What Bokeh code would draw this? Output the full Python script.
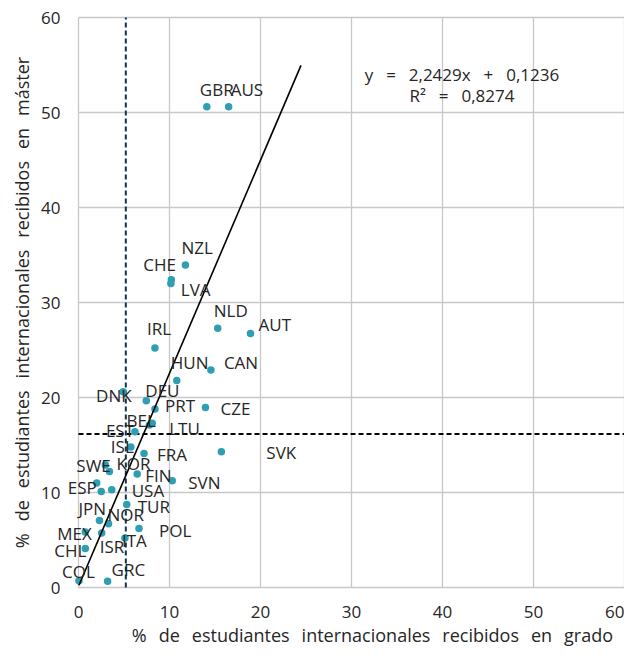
from bokeh.plotting import figure
from bokeh.models import Label, FixedTicker
from bokeh.embed import file_html
from bokeh.resources import INLINE

# ---- data ----
countries = ["GBR", "AUS", "NZL", "CHE", "LVA", "NLD", "AUT", "IRL", "HUN", "CAN",
             "DNK", "DEU", "PRT", "CZE", "BEL", "LTU", "EST", "ISL", "FRA", "SVK",
             "SWE", "KOR", "FIN", "SVN", "ESP", "USA", "TUR", "JPN", "NOR", "MEX",
             "POL", "ISR", "ITA", "CHL", "COL", "GRC", ""]
grado = [14.1, 16.5, 11.75, 10.2, 10.15, 15.3, 18.9, 8.4, 10.8, 14.55,
         4.9, 7.45, 8.4, 13.95, 7.8, 8.1, 6.2, 5.75, 7.2, 15.7,
         2.95, 3.4, 6.45, 10.3, 2.0, 3.65, 5.3, 2.3, 3.3, 0.75,
         6.65, 2.55, 5.1, 0.75, 0.05, 3.2, 2.5]
master = [50.6, 50.6, 33.95, 32.4, 32.0, 27.3, 26.75, 25.2, 21.8, 22.9,
          20.6, 19.65, 18.8, 18.95, 17.1, 17.3, 16.4, 14.8, 14.1, 14.3,
          12.9, 12.2, 11.95, 11.25, 11.0, 10.3, 8.75, 7.05, 6.7, 5.85,
          6.2, 5.75, 5.2, 4.1, 0.7, 0.65, 10.1]
slope = 2.2429
intercept = 0.1236
r2 = 0.8274
trend_x_end = 24.45
avg_grado = 5.2
avg_master = 16.15
ticks = [0, 10, 20, 30, 40, 50, 60]
x_title = "% de estudiantes internacionales recibidos en grado"
y_title = "% de estudiantes internacionales recibidos en máster"

# label offsets in screen pixels (left edge, vertical centre; + = right / down)
label_offsets = {
    "GBR": (-7, -17), "AUS": (2, -17), "NZL": (-4, -17), "CHE": (-28, -15),
    "LVA": (10, 6), "NLD": (-4, -18), "AUT": (8, -9), "IRL": (-8, -20),
    "HUN": (-6, -18), "CAN": (13, -7), "DNK": (-27, 4), "DEU": (-1, -10),
    "PRT": (10, -3), "CZE": (15, 1), "BEL": (-23, -5), "LTU": (17, 5),
    "EST": (-29, -1), "ISL": (-20, 0), "FRA": (13, 1), "SVK": (45, 1),
    "SWE": (-29, 1), "KOR": (7, -8), "FIN": (8, 2), "SVN": (16, 2),
    "ESP": (-29, 4), "USA": (20, 1), "TUR": (11, 2), "JPN": (-21, -12),
    "NOR": (-1, -9), "MEX": (-28, 2), "POL": (20, 2), "ISR": (-2, 14),
    "ITA": (-3, 2), "CHL": (-31, 2), "COL": (-17, -9), "GRC": (4, -12),
}

FONT = "Open Sans"
TXT = "#262626"
GRID = "#c8c8c8"
SPW = "\u2002\u2009"      # wide word spacing of the axis titles
SP2 = "\u2002\u00a0"      # wide spacing of the equation

# the frame covers the whole canvas so that labels may overhang the 0..60 box;
# the axes are pinned at 0
W, H = 624, 649
KX, KY = 9.1, 9.5                      # pixels per unit
X0 = -78 / KX
X1 = X0 + W / KX
Y1 = 60 + 17 / KY
Y0 = Y1 - H / KY
p = figure(width=W, height=H, x_range=(X0, X1), y_range=(Y0, Y1),
           output_backend="svg", toolbar_location=None, min_border=0)
p.background_fill_color = "white"
p.border_fill_color = "white"
p.outline_line_color = None
p.xgrid.visible = False
p.ygrid.visible = False

g0, g1 = ticks[0], ticks[-1]

# grid box 0..60, one line per tick
for t in ticks:
    p.line([t, t], [g0, g1], line_color=GRID, line_width=1.3)
    p.line([g0, g1], [t, t], line_color=GRID, line_width=1.3)

for ax in (p.xaxis, p.yaxis):
    ax.ticker = FixedTicker(ticks=ticks)
    ax.fixed_location = 0
    ax.bounds = (g0, g1)
    ax.axis_line_color = None
    ax.major_tick_line_color = None
    ax.minor_tick_line_color = None
    ax.major_tick_out = 0
    ax.major_tick_in = 0
    ax.minor_tick_out = 0
    ax.minor_tick_in = 0
    ax.major_label_text_font = FONT
    ax.major_label_text_font_size = "17px"
    ax.major_label_text_color = TXT
    ax.axis_label_text_font = FONT
    ax.axis_label_text_font_size = "18px"
    ax.axis_label_text_font_style = "normal"
    ax.axis_label_text_color = TXT

p.yaxis.axis_label = SPW.join(y_title.split(" "))
p.xaxis.major_label_standoff = 18
p.yaxis.major_label_standoff = 18
p.yaxis.axis_label_standoff = 4

# x-axis title (placed slightly right of centre as in the original)
p.add_layout(Label(x=(g0 + g1) / 2 + 2.3, y=g0, y_offset=-47,
                   text=SPW.join(x_title.split(" ")), text_align="center",
                   text_baseline="middle", text_font=FONT, text_font_size="18px",
                   text_color=TXT))

# reference (average) lines
p.line([g0, g1], [avg_master, avg_master], line_color="black", line_width=2, line_dash="5 3")
p.line([avg_grado, avg_grado], [g0, g1], line_color="#0d3450", line_width=2, line_dash="5 3")

# points
p.scatter(grado, master, size=7.5, fill_color="#2e9fb2", line_color=None)

# trend line
xs = min(grado)
p.line([xs, trend_x_end], [slope * xs + intercept, slope * trend_x_end + intercept],
       line_color="black", line_width=1.6)

# country labels
for name, xv, yv in zip(countries, grado, master):
    if name:
        dx, dy = label_offsets[name]
        p.add_layout(Label(x=xv, y=yv, text=name, x_offset=dx, y_offset=-dy,
                           text_font=FONT, text_font_size="17px", text_color=TXT,
                           text_align="left", text_baseline="middle"))

# equation
eq = ("y" + SP2 + "=" + SP2 + f"{slope:.4f}".replace(".", ",") + "x" + SP2 + "+" + SP2
      + f"{intercept:.4f}".replace(".", ","))
rr = "R²" + SP2 + "=" + SP2 + f"{r2:.4f}".replace(".", ",")
for t, yy in ((eq, 54.05), (rr, 51.74)):
    p.add_layout(Label(x=42.14, y=yy, text=t, text_align="center", text_baseline="middle",
                       text_font=FONT, text_font_size="17px", text_color=TXT))

open("out.html", "w").write(file_html(p, INLINE))
